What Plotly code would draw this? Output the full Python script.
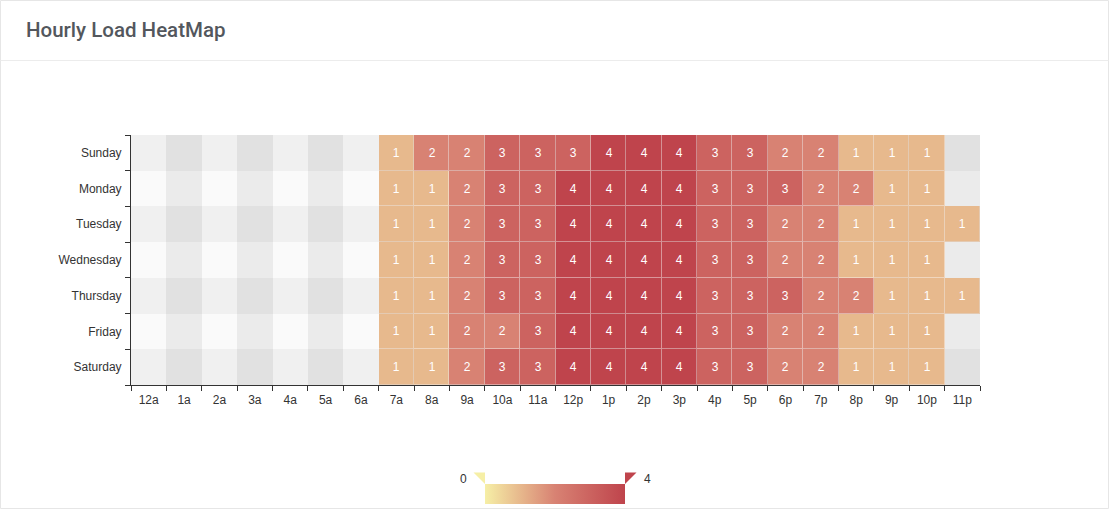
import plotly.graph_objects as go

hours = ["12a", "1a", "2a", "3a", "4a", "5a", "6a", "7a", "8a", "9a", "10a", "11a",
         "12p", "1p", "2p", "3p", "4p", "5p", "6p", "7p", "8p", "9p", "10p", "11p"]
days = ["Sunday", "Monday", "Tuesday", "Wednesday", "Thursday", "Friday", "Saturday"]

sunday    = [0, 0, 0, 0, 0, 0, 0, 1, 2, 2, 3, 3, 3, 4, 4, 4, 3, 3, 2, 2, 1, 1, 1, 0]
monday    = [0, 0, 0, 0, 0, 0, 0, 1, 1, 2, 3, 3, 4, 4, 4, 4, 3, 3, 3, 2, 2, 1, 1, 0]
tuesday   = [0, 0, 0, 0, 0, 0, 0, 1, 1, 2, 3, 3, 4, 4, 4, 4, 3, 3, 2, 2, 1, 1, 1, 1]
wednesday = [0, 0, 0, 0, 0, 0, 0, 1, 1, 2, 3, 3, 4, 4, 4, 4, 3, 3, 2, 2, 1, 1, 1, 0]
thursday  = [0, 0, 0, 0, 0, 0, 0, 1, 1, 2, 3, 3, 4, 4, 4, 4, 3, 3, 3, 2, 2, 1, 1, 1]
friday    = [0, 0, 0, 0, 0, 0, 0, 1, 1, 2, 2, 3, 4, 4, 4, 4, 3, 3, 2, 2, 1, 1, 1, 0]
saturday  = [0, 0, 0, 0, 0, 0, 0, 1, 1, 2, 3, 3, 4, 4, 4, 4, 3, 3, 2, 2, 1, 1, 1, 0]

values = [sunday, monday, tuesday, wednesday, thursday, friday, saturday]
vmin, vmax = 0, 4

W, H = 1110, 511
L, R, T, B = 131, 980, 135, 385  # plot area in px


def px(x):
    return (x - L) / (R - L)


def py(y):
    return (B - y) / (B - T)


xs = list(range(len(hours)))
ys = list(range(len(days)))

z = [[v if v != 0 else None for v in row] for row in values]
txt = [[str(v) if v != 0 else "" for v in row] for row in values]

# split-area background stripes (alternating rows / columns)
bg = [[(i % 2) * 2 + (j % 2) for j in xs] for i in ys]
bg_scale = [[0.0, "#f0f0f0"], [0.25, "#f0f0f0"], [0.25, "#e1e1e1"], [0.5, "#e1e1e1"],
            [0.5, "#fafafa"], [0.75, "#fafafa"], [0.75, "#ebebeb"], [1.0, "#ebebeb"]]

cscale = [[0, "#f6efa6"], [0.5, "#d88273"], [1, "#bf444c"]]

fig = go.Figure()
fig.add_trace(go.Heatmap(x=xs, y=ys, z=bg, colorscale=bg_scale, zmin=0, zmax=3,
                         showscale=False, hoverinfo="skip"))
fig.add_trace(go.Heatmap(x=xs, y=ys, z=z, colorscale=cscale, zmin=vmin, zmax=vmax,
                         showscale=False, opacity=0.55, hoverinfo="skip"))
fig.add_trace(go.Heatmap(
    x=xs, y=ys, z=z, colorscale=cscale, zmin=vmin, zmax=vmax,
    xgap=1, ygap=1, text=txt, texttemplate="%{text}",
    textfont=dict(color="#ffffff", size=12, family="Liberation Sans, Arial, sans-serif"),
    showscale=True,
    colorbar=dict(orientation="h", x=px(555), xanchor="center", y=py(494), yanchor="middle",
                  len=140, lenmode="pixels", thickness=20, thicknessmode="pixels",
                  outlinewidth=0, showticklabels=False, ticks="", xpad=0, ypad=0),
))

axis_font = dict(family="Liberation Sans, Arial, sans-serif", size=12, color="#333333")

fig.update_xaxes(
    range=[-0.5, len(hours) - 0.5], tickmode="array", tickvals=xs, ticktext=hours,
    ticks="outside", ticklen=4, tickcolor="rgba(0,0,0,0)", tickfont=axis_font,
    showline=True, linecolor="#333333", linewidth=1, showgrid=False, zeroline=False,
    minor=dict(tick0=-0.5, dtick=1, ticks="outside", ticklen=5, tickcolor="#333333",
               showgrid=False),
    fixedrange=True, automargin=False,
)
fig.update_yaxes(
    range=[len(days) - 0.5, -0.5], tickmode="array", tickvals=ys, ticktext=days,
    ticks="outside", ticklen=6, tickcolor="rgba(0,0,0,0)", tickfont=axis_font,
    showline=True, linecolor="#333333", linewidth=1, showgrid=False, zeroline=False,
    minor=dict(tick0=-0.5, dtick=1, ticks="outside", ticklen=5, tickcolor="#333333",
               showgrid=False),
    fixedrange=True, automargin=False,
)

shapes = [
    # card border
    dict(type="rect", xref="paper", yref="paper", x0=px(0.5), x1=px(1108.5),
         y0=py(508.5), y1=py(0.5), line=dict(color="#e6e6e6", width=1), layer="below"),
    # header divider
    dict(type="line", xref="paper", yref="paper", x0=px(0.5), x1=px(1108.5),
         y0=py(60.5), y1=py(60.5), line=dict(color="#ececec", width=1)),
    # visual map handles
    dict(type="path", xref="paper", yref="paper",
         path=f"M {px(473.5)} {py(472.5)} L {px(485)} {py(472.5)} L {px(485)} {py(484)} Z",
         fillcolor="#f6efa6", line=dict(width=0)),
    dict(type="path", xref="paper", yref="paper",
         path=f"M {px(625)} {py(472.5)} L {px(636.5)} {py(472.5)} L {px(625)} {py(484)} Z",
         fillcolor="#bf444c", line=dict(width=0)),
]

annotations = [
    dict(text="Hourly Load HeatMap", xref="paper", yref="paper", x=px(24), y=py(30),
         xanchor="left", yanchor="middle", showarrow=False,
         font=dict(family="Roboto, sans-serif", size=20.5, color="#53575d", weight=500)),
    dict(text=str(vmin), xref="paper", yref="paper", x=px(469), y=py(479),
         xanchor="right", yanchor="middle", showarrow=False, font=axis_font),
    dict(text=str(vmax), xref="paper", yref="paper", x=px(642), y=py(479),
         xanchor="left", yanchor="middle", showarrow=False, font=axis_font),
]

fig.update_layout(
    width=W, height=H,
    margin=dict(l=L, r=W - R, t=T, b=H - B, pad=0, autoexpand=False),
    paper_bgcolor="#ffffff", plot_bgcolor="#ffffff",
    shapes=shapes, annotations=annotations, showlegend=False,
)

fig.write_html("out.html", config={"displayModeBar": False},
               post_script="document.body.style.margin='0';document.body.style.overflow='hidden';")
